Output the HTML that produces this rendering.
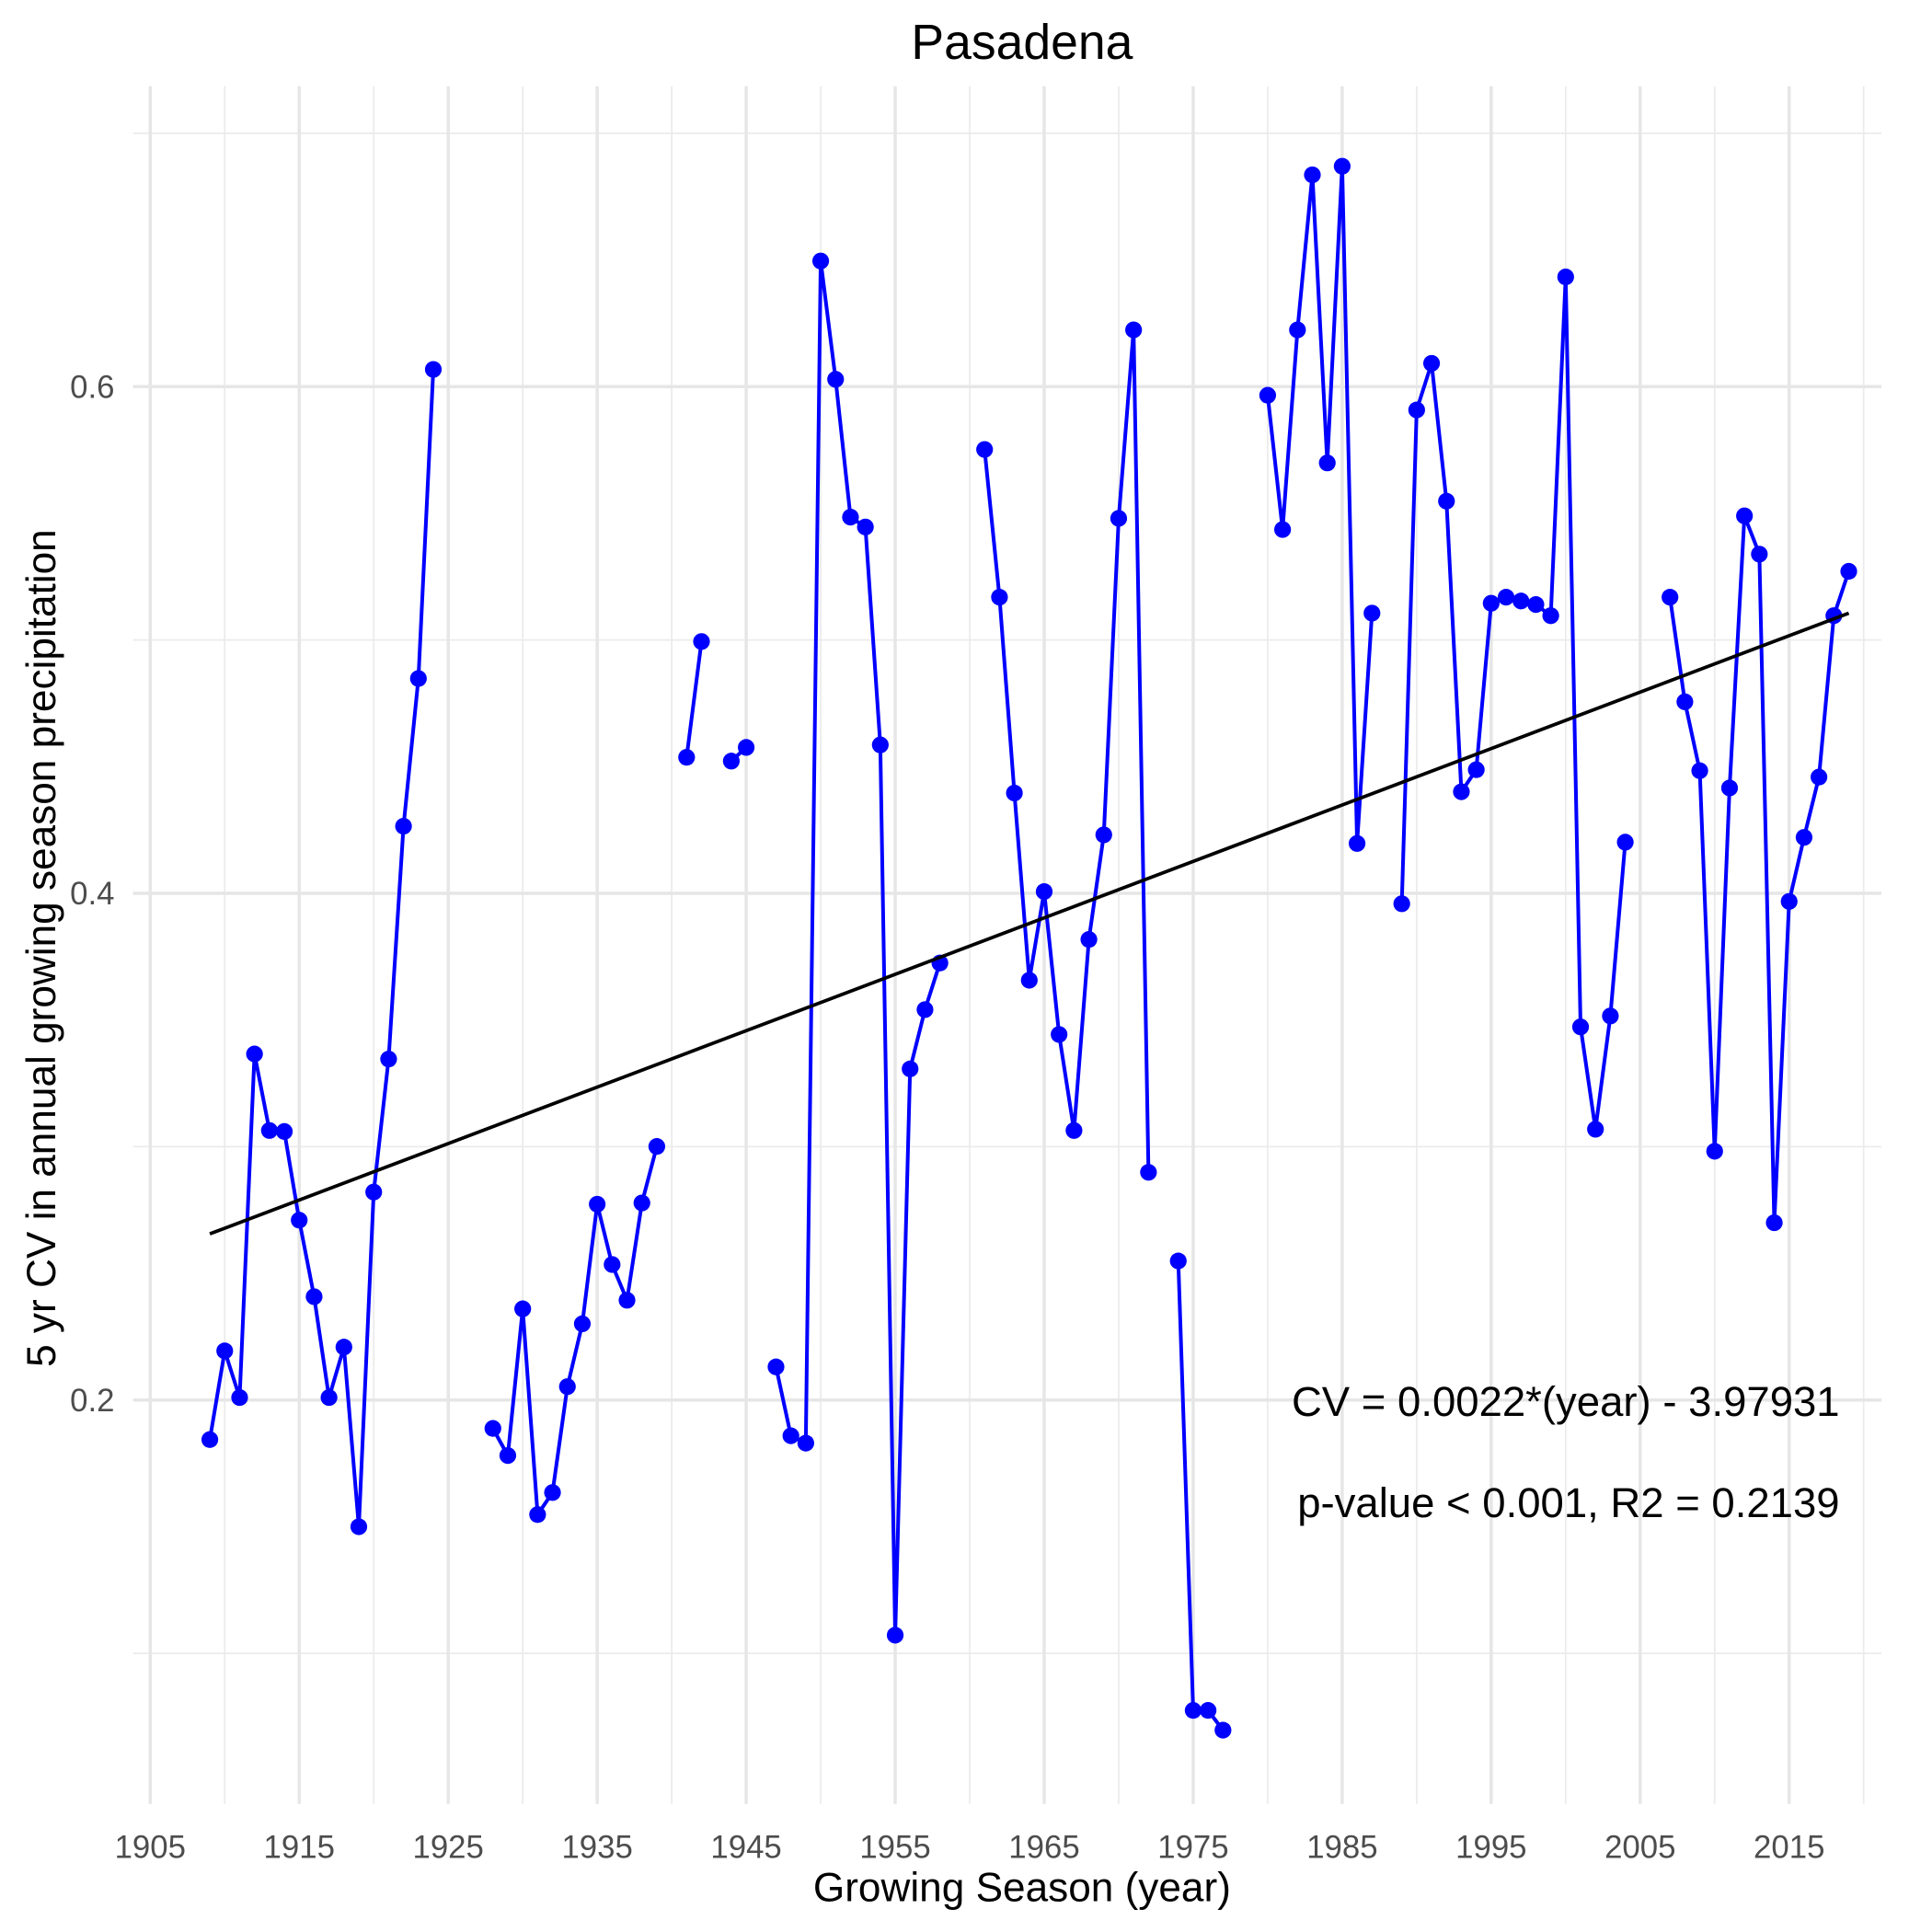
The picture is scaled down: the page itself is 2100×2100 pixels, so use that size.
<!DOCTYPE html>
<html><head><meta charset="utf-8"><style>
html,body{margin:0;padding:0;background:#fff;}
svg{display:block;font-family:"Liberation Sans",Arial,sans-serif;}
</style></head><body>
<svg id="chart" width="2100" height="2100" viewBox="0 0 1569 1569" xmlns="http://www.w3.org/2000/svg">
<rect width="1569" height="1569" fill="#fff"/>
<g id="grid"></g>
<g id="series"></g>
<g id="axes"></g>
<text x="830" y="48" font-size="40" text-anchor="middle" fill="#000">Pasadena</text>
<text x="830" y="1544" font-size="33" text-anchor="middle" fill="#000">Growing Season (year)</text>
<text transform="translate(45,770) rotate(-90)" font-size="33" text-anchor="middle" fill="#000">5 yr CV in annual growing season precipitation</text>
<text x="1494" y="1150" font-size="34" text-anchor="end" fill="#000">CV = 0.0022*(year) - 3.97931</text>
<text x="1494" y="1232" font-size="34" text-anchor="end" fill="#000">p-value &lt; 0.001, R2 = 0.2139</text>
</svg>
<script>
const years = [];
for (let y = 1909; y <= 2019; y++) years.push(y);
const cvValues = [
0.1844,0.2194,0.201,0.3366,0.3064,0.306,0.271,0.2408,0.201,0.2209,0.15,0.2821,0.3346,0.4265,0.4848,0.6068,
null,null,null,
0.1888,0.1781,0.236,0.1548,0.1635,0.2053,0.2301,0.2773,0.2535,0.2394,0.2778,0.3001,
null,
0.4537,0.4994,
null,
0.4522,0.4576,
null,
0.2131,0.1859,0.183,0.6496,0.6029,0.5485,0.5446,0.4586,0.1072,0.3307,0.3541,0.3725,
null,null,
0.5752,0.5169,0.4396,0.3657,0.4007,0.3443,0.3064,0.3818,0.4231,0.548,0.6224,0.2899,
null,
0.2549,0.0775,0.0775,0.0697,
null,null,
0.5966,0.5436,0.6224,0.6836,0.5699,0.687,0.4197,0.5106,
null,
0.3959,0.5908,0.6092,0.5548,0.4401,0.4488,0.5145,0.5169,0.5154,0.514,0.5096,0.6433,0.3473,0.3069,0.3516,0.4202,
null,null,
0.5169,0.4756,0.4484,0.2982,0.4416,0.549,0.5339,0.27,0.3968,0.4221,0.4459,0.5096,0.5271
];
const trendYears = [1909, 2019];
const trendValues = [0.2656, 0.5106];
const xTicks = [1905,1915,1925,1935,1945,1955,1965,1975,1985,1995,2005,2015];
const xMinor = [1910,1920,1930,1940,1950,1960,1970,1980,1990,2000,2010,2020];
const yTicks = [0.2,0.4,0.6];
const yTickLabels = ["0.2","0.4","0.6"];
const yMinor = [0.1,0.3,0.5,0.7];

const NS = "http://www.w3.org/2000/svg";
const PL = 108, PR = 1528, PT = 70, PB = 1465;
function xs(v){ return 122 + (v - 1905) * (1453 - 122) / 110; }
function ys(v){ return 1137 - (v - 0.2) * 2057.5; }
function mk(tag, attrs, parent){
  const e = document.createElementNS(NS, tag);
  for (const k in attrs) e.setAttribute(k, attrs[k]);
  parent.appendChild(e); return e;
}
const grid = document.getElementById('grid');
const series = document.getElementById('series');
const axes = document.getElementById('axes');

xMinor.forEach(v => {
  const l = mk('line', {x1:xs(v), x2:xs(v), y1:PT, y2:PB, stroke:'#ebebeb', 'stroke-width':1.3}, grid);
  
  
});
yMinor.forEach(v => {
  const l = mk('line', {x1:PL, x2:PR, y1:ys(v), y2:ys(v), stroke:'#ebebeb', 'stroke-width':1.3}, grid);
  
  
});
xTicks.forEach(v => {
  const l = mk('line', {x1:xs(v), x2:xs(v), y1:PT, y2:PB, stroke:'#e6e6e6', 'stroke-width':2.6}, grid);
  
  
  const t = mk('text', {x:xs(v), y:1509, 'font-size':26, 'text-anchor':'middle', fill:'#4d4d4d'}, axes);
  t.textContent = String(v);
  
  
});
yTicks.forEach((v, i) => {
  const l = mk('line', {x1:PL, x2:PR, y1:ys(v), y2:ys(v), stroke:'#e6e6e6', 'stroke-width':2.6}, grid);
  
  
  const t = mk('text', {x:93, y:ys(v) + 9, 'font-size':26, 'text-anchor':'end', fill:'#4d4d4d'}, axes);
  t.textContent = yTickLabels[i];
  
  
});

let d = '', pen = false;
years.forEach((yr, i) => {
  const v = cvValues[i];
  if (v === null || v === undefined) { pen = false; return; }
  d += (pen ? 'L' : 'M') + xs(yr).toFixed(2) + ' ' + ys(v).toFixed(2) + ' ';
  pen = true;
});
const path = mk('path', {d:d, fill:'none', stroke:'#0000ff', 'stroke-width':3, 'stroke-linejoin':'round'}, series);



years.forEach((yr, i) => {
  const v = cvValues[i];
  if (v === null || v === undefined) return;
  const c = mk('circle', {cx:xs(yr), cy:ys(v), r:6.8, fill:'#0000ff'}, series);
  
  
});

const tl = mk('line', {x1:xs(trendYears[0]), y1:ys(trendValues[0]), x2:xs(trendYears[1]), y2:ys(trendValues[1]), stroke:'#000', 'stroke-width':2.8}, series);


</script>
</body></html>
